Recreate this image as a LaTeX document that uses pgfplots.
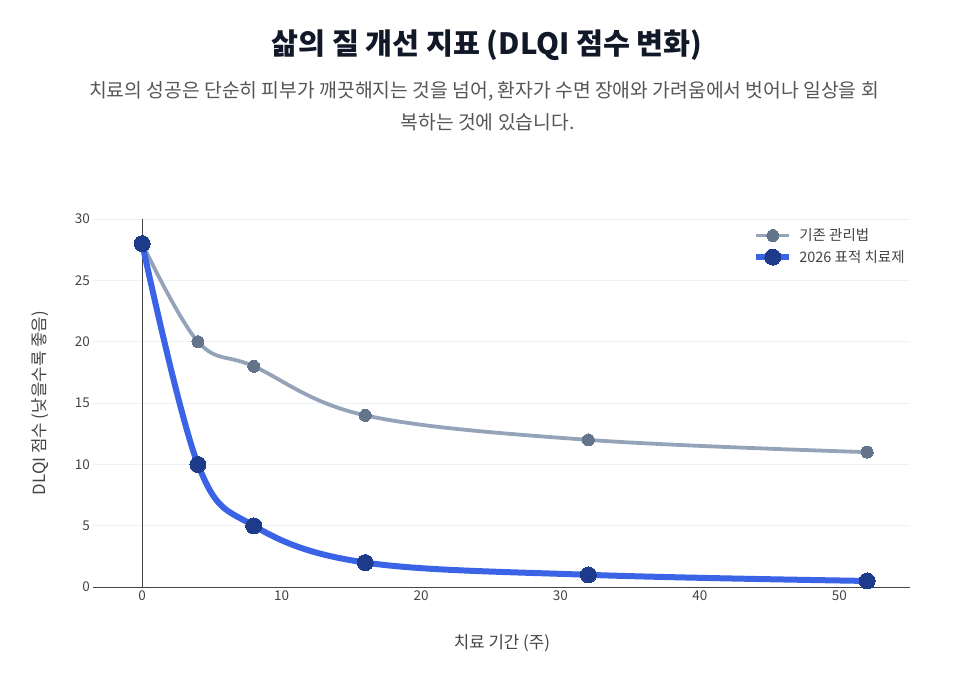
\documentclass[border=0pt]{standalone}
\usepackage{fontspec}
\setmainfont{Noto Sans CJK KR}
\usepackage{pgfplots}
\pgfplotsset{compat=1.18}
\definecolor{titlec}{HTML}{111827}
\definecolor{subc}{HTML}{555555}
\definecolor{tickc}{HTML}{444444}
\definecolor{gridc}{HTML}{EEF1F6}
\definecolor{oldline}{HTML}{94A3B8}
\definecolor{oldmark}{HTML}{64748B}
\definecolor{newline}{HTML}{3B63E6}
\definecolor{newmark}{HTML}{1E3A8A}
\begin{document}
\begin{tikzpicture}[x=1pt,y=1pt]
\useasboundingbox (0,0) rectangle (975,684);
\node[font=\bfseries\fontsize{29.3}{32}\selectfont, text=titlec] at (487,639) {삶의 질 개선 지표 (DLQI 점수 변화)};
\node[font=\fontsize{19.3}{22}\selectfont, text=subc] at (484,593) {치료의 성공은 단순히 피부가 깨끗해지는 것을 넘어, 환자가 수면 장애와 가려움에서 벗어나 일상을 회};
\node[font=\fontsize{19.3}{22}\selectfont, text=subc] at (487.5,562) {복하는 것에 있습니다.};
\begin{axis}[
  at={(67,79)}, anchor=south west, scale only axis,
  width=817pt, height=368pt,
  xmin=-3.5, xmax=55.1, ymin=0, ymax=30,
  axis x line*=bottom, axis y line*=left,
  y axis line style={draw=none},
  x axis line style={-, draw=tickc, line width=1pt},
  major tick length=0pt,
  xtick={0,10,20,30,40,50}, ytick={0,5,10,15,20,25,30},
  ymajorgrids, grid style={gridc, line width=0.8pt},
  tick label style={font=\fontsize{13.5}{15}\selectfont, text=tickc},
  /pgf/number format/assume math mode=true,
  xlabel={치료 기간 (주)}, ylabel={DLQI 점수 (낮을수록 좋음)},
  label style={font=\fontsize{16.8}{19}\selectfont, text=tickc},
  xlabel style={at={(axis description cs:0.5,-0.152)}, anchor=center},
  ylabel style={at={(axis description cs:-0.065,0.5)}, anchor=center},
  legend style={at={(0.805,0.985)}, anchor=north west, draw=none, fill=none,
    font=\fontsize{14.5}{16}\selectfont, text=tickc, row sep=4pt,
    inner sep=2pt, /tikz/every odd column/.append style={column sep=5pt}},
  legend cell align=left,
  legend image code/.code={\draw[mark repeat=2,mark phase=2,#1] plot coordinates {(0pt,0pt) (16.5pt,0pt) (33pt,0pt)};},
  clip=false,
]
\addplot[tickc, line width=1pt, forget plot] coordinates {(0,0) (0,30)};
\addplot[oldline, line width=3.8pt, smooth, tension=0.6, mark=*, mark size=6pt,
  mark options={fill=oldmark, draw=oldmark, line width=0pt}]
  coordinates {(0,28) (4,20) (8,18) (16,14) (32,12) (52,11)};
\addlegendentry{기존 관리법}
\addplot[newline, line width=6pt, smooth, tension=0.6, mark=*, mark size=8pt,
  mark options={fill=newmark, draw=newmark, line width=0pt}]
  coordinates {(0,28) (4,10) (8,5) (16,2) (32,1) (52,0.5)};
\addlegendentry{2026 표적 치료제}
\end{axis}
\end{tikzpicture}
\end{document}
